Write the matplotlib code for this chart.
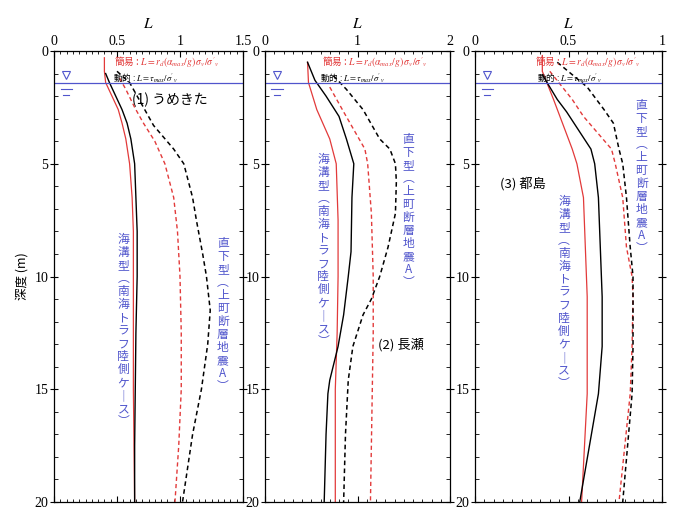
import matplotlib.pyplot as plt
from matplotlib.ticker import MultipleLocator

plt.rcParams["font.family"] = ["Liberation Serif", "Noto Sans CJK JP", "DejaVu Sans"]
plt.rcParams["mathtext.fontset"] = "stix"
JP = ["Noto Sans CJK JP", "DejaVu Sans"]

RED = "#e23a3a"
BLUE = "#5055cc"

# ---- depth profiles of L (depth in m) ----
# (1) うめきた
ume_kaiko_simple_d = [0.3, 0.9, 1.4, 2.0, 2.6, 3.2, 3.9, 5.0, 6.5, 8.0, 10.0, 12.5, 15.0, 17.5, 20.0]
ume_kaiko_simple_L = [0.40, 0.40, 0.41, 0.46, 0.51, 0.54, 0.57, 0.60, 0.62, 0.63, 0.63, 0.63, 0.63, 0.635, 0.64]
ume_kaiko_dyn_d = [1.0, 1.4, 2.0, 2.6, 3.2, 3.9, 5.0, 6.5, 8.0, 10.0, 12.5, 15.0, 17.5, 20.0]
ume_kaiko_dyn_L = [0.41, 0.44, 0.49, 0.54, 0.58, 0.61, 0.64, 0.65, 0.66, 0.66, 0.65, 0.645, 0.64, 0.64]
ume_chika_simple_d = [1.2, 1.7, 2.5, 3.2, 4.0, 5.0, 6.5, 8.0, 10.0, 12.5, 15.0, 17.5, 20.0]
ume_chika_simple_L = [0.52, 0.57, 0.64, 0.71, 0.80, 0.88, 0.95, 0.98, 1.00, 1.01, 1.01, 0.99, 0.96]
ume_chika_dyn_d = [0.9, 1.4, 2.5, 3.3, 4.35, 5.0, 6.5, 7.5, 9.0, 10.0, 11.5, 13.0, 15.0, 17.0, 20.0]
ume_chika_dyn_L = [0.50, 0.60, 0.71, 0.79, 0.95, 1.03, 1.10, 1.13, 1.18, 1.21, 1.24, 1.22, 1.17, 1.10, 1.02]

# (2) 長瀬
nag_kaiko_simple_d = [0.5, 1.4, 2.6, 3.9, 5.0, 7.5, 10.0, 12.5, 15.0, 17.5, 20.0]
nag_kaiko_simple_L = [0.46, 0.47, 0.56, 0.70, 0.77, 0.79, 0.79, 0.78, 0.76, 0.76, 0.76]
nag_kaiko_dyn_d = [0.5, 1.3, 2.0, 2.9, 3.9, 5.0, 6.5, 8.9, 10.0, 11.7, 13.1, 14.6, 15.2, 17.0, 20.0]
nag_kaiko_dyn_L = [0.46, 0.54, 0.66, 0.80, 0.88, 0.96, 0.94, 0.93, 0.90, 0.85, 0.79, 0.70, 0.68, 0.66, 0.64]
nag_chika_simple_d = [1.6, 2.7, 4.35, 5.0, 7.2, 10.0, 12.5, 15.0, 17.5, 20.0]
nag_chika_simple_L = [0.70, 0.85, 1.08, 1.11, 1.15, 1.17, 1.17, 1.16, 1.15, 1.14]
nag_chika_dyn_d = [1.1, 1.7, 2.6, 3.9, 4.35, 5.0, 5.8, 7.2, 8.7, 10.0, 11.0, 11.7, 13.1, 14.6, 17.0, 20.0]
nag_chika_dyn_L = [0.74, 0.88, 1.06, 1.24, 1.35, 1.41, 1.42, 1.41, 1.33, 1.24, 1.15, 1.06, 0.95, 0.90, 0.87, 0.85]

# (3) 都島
miy_kaiko_simple_d = [0.2, 0.9, 2.15, 4.35, 5.0, 6.5, 8.7, 10.9, 13.1, 15.2, 20.0]
miy_kaiko_simple_L = [0.36, 0.36, 0.42, 0.52, 0.545, 0.58, 0.59, 0.60, 0.60, 0.60, 0.57]
miy_kaiko_dyn_d = [1.05, 2.15, 2.7, 4.35, 5.0, 6.5, 8.7, 10.9, 13.1, 15.2, 20.0]
miy_kaiko_dyn_L = [0.36, 0.44, 0.49, 0.62, 0.64, 0.66, 0.67, 0.68, 0.68, 0.66, 0.56]
miy_chika_simple_d = [0.9, 2.15, 2.9, 4.35, 5.0, 6.5, 8.7, 10.0, 10.9, 13.1, 15.2, 20.0]
miy_chika_simple_L = [0.40, 0.52, 0.58, 0.73, 0.75, 0.79, 0.81, 0.84, 0.845, 0.84, 0.83, 0.77]
miy_chika_dyn_d = [0.5, 1.6, 2.6, 3.2, 4.35, 5.0, 6.5, 8.7, 10.0, 10.9, 13.1, 15.2, 20.0]
miy_chika_dyn_L = [0.44, 0.60, 0.69, 0.74, 0.77, 0.79, 0.81, 0.83, 0.845, 0.845, 0.845, 0.84, 0.79]

water_depth = 1.4

kaiko_label = "海溝型（南海トラフ陸側ケース）"
chika_label = "直下型（上町断層地震A）"
simple_eq = "簡易 : $L=r_d(\\alpha_{max}/g)\\,\\sigma_v/\\sigma'_v$"
dyn_eq = "動的 : $L=\\tau_{max}/\\sigma'_v$"


def tate(s):
    """Stack characters for vertical Japanese writing."""
    swap = {"（": "︵", "）": "︶", "ー": "｜"}
    return "\n".join(swap.get(c, c) for c in s)


def draw_panel(ax, curves, xmax, major, minor):
    for d, L, color, ls, lw in curves:
        ax.plot(L, d, color=color, linestyle=ls, linewidth=lw)

    ax.axhline(water_depth, color=BLUE, linewidth=0.9)
    # groundwater mark
    yt = ax.get_yaxis_transform()
    ax.plot([0.065], [water_depth - 0.35], marker="v", markersize=6,
            markerfacecolor="white", markeredgecolor=BLUE, markeredgewidth=0.8,
            transform=yt, clip_on=False)
    ax.plot([0.035, 0.095], [water_depth + 0.3] * 2, color=BLUE, lw=0.8, transform=yt)
    ax.plot([0.05, 0.08], [water_depth + 0.55] * 2, color=BLUE, lw=0.8, transform=yt)

    ax.set_xlim(0, xmax)
    ax.set_ylim(20, 0)
    ax.xaxis.set_major_locator(MultipleLocator(major))
    ax.xaxis.set_minor_locator(MultipleLocator(minor))
    ax.yaxis.set_major_locator(MultipleLocator(5))
    ax.yaxis.set_minor_locator(MultipleLocator(1))
    ax.xaxis.tick_top()
    ax.xaxis.set_label_position("top")
    ax.tick_params(axis="x", which="both", direction="in", top=True, bottom=True,
                   labeltop=True, labelbottom=False, labelsize=10, pad=2)
    ax.tick_params(axis="x", which="major", length=4)
    ax.tick_params(axis="x", which="minor", length=2)
    ax.tick_params(axis="y", which="both", direction="inout", left=True, right=True,
                   labelsize=10, pad=1)
    ax.tick_params(axis="y", which="major", length=6)
    ax.tick_params(axis="y", which="minor", length=3, direction="in")
    ax.set_xticklabels([f"{v:g}" for v in ax.get_xticks()])
    ax.set_xlabel("$L$", fontsize=11, labelpad=5)
    for s in ax.spines.values():
        s.set_linewidth(0.9)


fig = plt.figure(figsize=(6.75, 5.12), dpi=100)
TOP, BOT = 51, 502
H = (BOT - TOP) / 512
B = 1 - BOT / 512
ax1 = fig.add_axes([54 / 675, B, 189 / 675, H])
ax2 = fig.add_axes([265 / 675, B, 185 / 675, H])
ax3 = fig.add_axes([475 / 675, B, 187 / 675, H])

DASH = (0, (3, 2.2))

draw_panel(ax1, [
    (ume_kaiko_simple_d, ume_kaiko_simple_L, RED, "-", 0.9),
    (ume_kaiko_dyn_d, ume_kaiko_dyn_L, "black", "-", 1.0),
    (ume_chika_simple_d, ume_chika_simple_L, RED, DASH, 1.0),
    (ume_chika_dyn_d, ume_chika_dyn_L, "black", DASH, 1.1),
], 1.5, 0.5, 0.05)
draw_panel(ax2, [
    (nag_kaiko_simple_d, nag_kaiko_simple_L, RED, "-", 0.9),
    (nag_kaiko_dyn_d, nag_kaiko_dyn_L, "black", "-", 1.0),
    (nag_chika_simple_d, nag_chika_simple_L, RED, DASH, 1.0),
    (nag_chika_dyn_d, nag_chika_dyn_L, "black", DASH, 1.1),
], 2.0, 1.0, 0.1)
draw_panel(ax3, [
    (miy_kaiko_simple_d, miy_kaiko_simple_L, RED, "-", 0.9),
    (miy_kaiko_dyn_d, miy_kaiko_dyn_L, "black", "-", 1.0),
    (miy_chika_simple_d, miy_chika_simple_L, RED, DASH, 1.0),
    (miy_chika_dyn_d, miy_chika_dyn_L, "black", DASH, 1.1),
], 1.0, 0.5, 0.05)

ax1.set_ylabel("深度 (m)", family=JP, fontsize=9, labelpad=4)

# formula notes near the surface
for ax, xr, xb in [(ax1, 0.48, 0.47), (ax2, 0.62, 0.60), (ax3, 0.32, 0.33)]:
    ax.text(xr, 0.45, simple_eq, color=RED, fontsize=7, family=JP, va="center")
    ax.text(xb, 1.2, dyn_eq, color="black", fontsize=6.2, family=JP, va="center")

# site names
ax1.text(0.62, 2.15, "(1) うめきた", family=JP, fontsize=10, va="center")
ax2.text(1.22, 13.05, "(2) 長瀬", family=JP, fontsize=9.5, va="center")
ax3.text(0.134, 5.9, "(3) 都島", family=JP, fontsize=9.5, va="center")

# earthquake case labels, written vertically
vt = dict(family=JP, fontsize=8.5, color=BLUE, ha="center", va="center", linespacing=1.0)
ax1.text(0.55, 12.4, tate(kaiko_label), **vt)
ax1.text(1.34, 11.7, tate(chika_label), **vt)
ax2.text(0.63, 8.85, tate(kaiko_label), **vt)
ax2.text(1.55, 7.1, tate(chika_label), **vt)
ax3.text(0.476, 10.7, tate(kaiko_label), **vt)
ax3.text(0.89, 5.6, tate(chika_label), **vt)

fig.savefig("out.png", dpi=100)
